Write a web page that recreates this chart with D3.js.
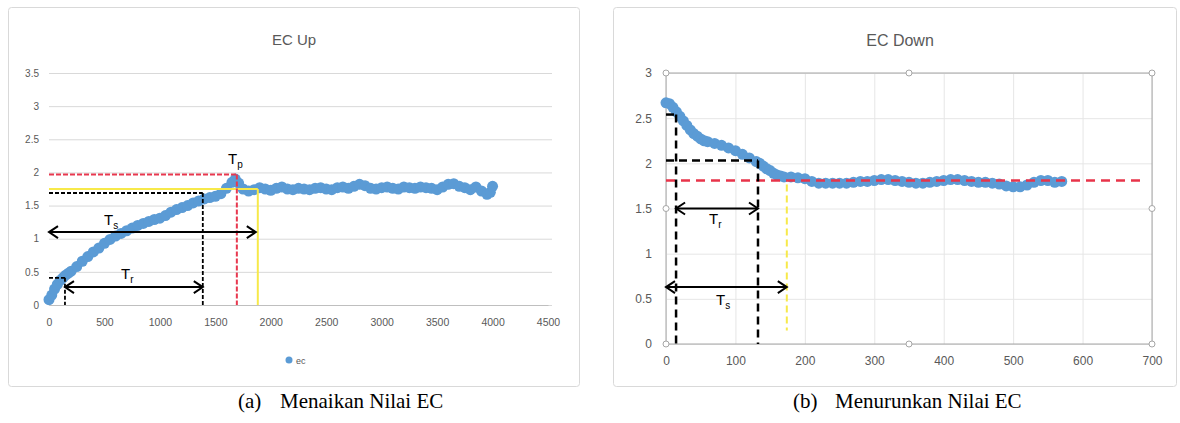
<!DOCTYPE html>
<html>
<head>
<meta charset="utf-8">
<script src="https://cdn.jsdelivr.net/npm/d3@7"></script>
<style>
  body { margin: 0; background: #fff; }
  text { font-family: "Liberation Sans", Arial, sans-serif; }
</style>
</head>
<body>
<div id="viz"></div>
<script>
// EC Up series (time, ec)
const up_time = [0,25,50,75,100,125,150,175,200,250,300,350,400,450,500,550,600,650,700,750,800,850,900,950,1000,1050,1100,1150,1200,1250,1300,1350,1400,1450,1500,1550,1600,1650,1680,1710,1750,1800,1850,1900,1950,2000,2050,2100,2150,2200,2250,2300,2350,2400,2450,2500,2550,2600,2650,2700,2750,2800,2850,2900,2950,3000,3050,3100,3150,3200,3250,3300,3350,3400,3450,3500,3550,3600,3650,3700,3750,3800,3850,3900,3950,3980,4000];
const up_ec = [0.08,0.15,0.24,0.31,0.37,0.41,0.45,0.48,0.51,0.58,0.66,0.73,0.8,0.86,0.93,0.99,1.04,1.08,1.12,1.16,1.2,1.23,1.26,1.29,1.31,1.35,1.4,1.44,1.47,1.5,1.54,1.57,1.6,1.62,1.64,1.68,1.76,1.85,1.9,1.84,1.75,1.72,1.74,1.77,1.75,1.73,1.76,1.78,1.75,1.74,1.76,1.75,1.74,1.76,1.77,1.75,1.74,1.77,1.78,1.76,1.79,1.82,1.8,1.76,1.75,1.77,1.78,1.76,1.75,1.78,1.77,1.76,1.78,1.77,1.76,1.74,1.78,1.82,1.83,1.79,1.77,1.74,1.78,1.72,1.67,1.7,1.79];

// EC Down series (time, ec)
const down_time = [0,5,10,15,20,25,30,35,40,45,50,55,60,70,80,90,100,110,120,130,135,140,145,150,155,160,165,170,180,190,200,210,220,230,240,250,260,270,280,290,300,310,320,330,340,350,360,370,380,390,400,410,420,430,440,450,460,470,480,490,500,510,520,530,540,550,560,570];
const down_ec = [2.67,2.66,2.62,2.57,2.52,2.47,2.42,2.37,2.33,2.3,2.27,2.25,2.24,2.22,2.2,2.17,2.14,2.1,2.06,2.02,2.0,1.97,1.94,1.92,1.89,1.87,1.86,1.85,1.85,1.84,1.83,1.8,1.78,1.78,1.78,1.78,1.78,1.79,1.8,1.8,1.81,1.82,1.82,1.81,1.8,1.79,1.78,1.78,1.79,1.8,1.81,1.82,1.82,1.81,1.8,1.79,1.79,1.78,1.77,1.75,1.74,1.74,1.76,1.79,1.81,1.81,1.79,1.8];

// annotation values
const up_marks = { t_start: 144, ec_start: 0.41, t_rise: 1387, ec_rise: 1.69, t_peak: 1694, ec_peak: 1.97, t_settle: 1883, ec_settle: 1.75 };
const down_marks = { t_start: 14.5, ec_start: 2.54, t_fall: 132.5, ec_fall: 2.03, ec_final: 1.81, t_settle: 174 };

const up_x_ticks = d3.range(0, 4501, 500);
const up_y_ticks = d3.range(0, 3.51, 0.5);
const down_x_ticks = d3.range(0, 701, 100);
const down_y_ticks = d3.range(0, 3.01, 0.5);

const captions = [['(a)', 'Menaikan Nilai EC'], ['(b)', 'Menurunkan Nilai EC']];

const BLUE = '#5b9bd5';
const GRID = '#d9d9d9';
const LABEL = '#595959';

const svg = d3.select('#viz').append('svg')
  .attr('width', 1180).attr('height', 423);

// chart boxes
svg.append('rect').attr('x', 8.5).attr('y', 7.5).attr('width', 571).attr('height', 379)
  .attr('rx', 3).attr('fill', '#fff').attr('stroke', GRID);
svg.append('rect').attr('x', 613.5).attr('y', 7.5).attr('width', 563).attr('height', 379)
  .attr('rx', 3).attr('fill', '#fff').attr('stroke', GRID);

function arrow(g, x1, x2, y) {
  g.append('line').attr('x1', x1).attr('x2', x2).attr('y1', y).attr('y2', y)
    .attr('stroke', '#000').attr('stroke-width', 2);
  [[x1, 1], [x2, -1]].forEach(([x, dir]) => {
    g.append('path')
      .attr('d', `M${x + dir * 9},${y - 6}L${x},${y}L${x + dir * 9},${y + 6}`)
      .attr('fill', 'none').attr('stroke', '#000').attr('stroke-width', 2);
  });
}

function tlabel(g, x, y, sub) {
  const t = g.append('text').attr('x', x).attr('y', y).attr('font-size', 15).attr('fill', '#000');
  t.append('tspan').text('T');
  t.append('tspan').attr('font-size', 10).attr('dy', 4).text(sub);
}

function seg(g, x1, y1, x2, y2, color, width, dash) {
  g.append('line').attr('x1', x1).attr('y1', y1).attr('x2', x2).attr('y2', y2)
    .attr('stroke', color).attr('stroke-width', width)
    .attr('stroke-dasharray', dash);
}

// ---------- (a) EC Up ----------
function draw_up() {
  const x = d3.scaleLinear().domain([0, 4500]).range([49, 548]);
  const y = d3.scaleLinear().domain([0, 3.5]).range([305, 73]);
  const g = svg.append('g');

  g.append('g').attr('transform', 'translate(49,0)')
    .call(d3.axisLeft(y).tickValues(up_y_ticks).tickSize(-503).tickPadding(10).tickFormat(d3.format('~g')))
    .call(a => a.select('.domain').remove())
    .call(a => a.selectAll('line').attr('stroke', GRID))
    .call(a => a.selectAll('text').attr('fill', LABEL).attr('font-size', 10));

  g.append('g').attr('transform', 'translate(0,305)')
    .call(d3.axisBottom(x).tickValues(up_x_ticks).tickSize(0).tickPadding(14).tickFormat(d3.format('d')))
    .call(a => a.select('.domain').attr('stroke', '#bfbfbf'))
    .call(a => a.selectAll('text').attr('fill', LABEL).attr('font-size', 10.5));

  g.append('text').attr('x', 294).attr('y', 45).attr('text-anchor', 'middle')
    .attr('font-size', 15).attr('fill', LABEL).text('EC Up');

  g.append('g').selectAll('circle')
    .data(up_time.map((t, i) => [t, up_ec[i]]))
    .join('circle')
    .attr('cx', d => x(d[0])).attr('cy', d => y(d[1])).attr('r', 5.5)
    .attr('fill', BLUE);

  const m = up_marks;
  // yellow settle lines
  seg(g, x(0), y(m.ec_settle), x(m.t_settle), y(m.ec_settle), '#f7e94a', 2, null);
  seg(g, x(m.t_settle), y(m.ec_settle), x(m.t_settle), y(0), '#f7e94a', 2, null);
  // black dashed rise lines
  seg(g, x(0), y(m.ec_rise), x(m.t_rise), y(m.ec_rise), '#000', 1.8, '4,2');
  seg(g, x(m.t_rise), y(m.ec_rise), x(m.t_rise), y(0), '#000', 1.8, '4,2');
  seg(g, x(0), y(m.ec_start), x(m.t_start), y(m.ec_start), '#000', 1.8, '4,2');
  seg(g, x(m.t_start), y(m.ec_start), x(m.t_start), y(0), '#000', 1.8, '4,2');
  // red dashed peak lines
  seg(g, x(0), y(m.ec_peak), x(m.t_peak), y(m.ec_peak), '#e8384f', 2, '5,2');
  seg(g, x(m.t_peak), y(m.ec_peak), x(m.t_peak), y(0), '#e8384f', 2, '5,2');

  arrow(g, x(0), x(m.t_settle) - 2, y(1.1));
  arrow(g, x(m.t_start), x(m.t_rise), y(0.27));
  tlabel(g, 104, 225, 's');
  tlabel(g, 121, 279, 'r');
  tlabel(g, 228, 164, 'p');

  // legend
  g.append('circle').attr('cx', 289).attr('cy', 360).attr('r', 3.5).attr('fill', BLUE);
  g.append('text').attr('x', 296).attr('y', 363.5).attr('font-size', 9).attr('fill', LABEL).text('ec');
}

// ---------- (b) EC Down ----------
function draw_down() {
  const x = d3.scaleLinear().domain([0, 700]).range([666, 1152]);
  const y = d3.scaleLinear().domain([0, 3]).range([344, 73]);
  const g = svg.append('g');

  g.append('g').attr('transform', 'translate(666,0)')
    .call(d3.axisLeft(y).tickValues(down_y_ticks).tickSize(-486).tickPadding(14).tickFormat(d3.format('~g')))
    .call(a => a.select('.domain').remove())
    .call(a => a.selectAll('line').attr('stroke', '#e6e6e6'))
    .call(a => a.selectAll('text').attr('fill', LABEL).attr('font-size', 12));

  g.append('g').attr('transform', 'translate(0,344)')
    .call(d3.axisBottom(x).tickValues(down_x_ticks).tickSize(-271).tickPadding(12))
    .call(a => a.select('.domain').remove())
    .call(a => a.selectAll('line').attr('stroke', '#e6e6e6'))
    .call(a => a.selectAll('text').attr('fill', LABEL).attr('font-size', 12));

  // plot area frame
  g.append('rect').attr('x', x(0)).attr('y', y(3)).attr('width', x(700) - x(0)).attr('height', y(0) - y(3))
    .attr('fill', 'none').attr('stroke', '#a6a6a6');

  g.append('text').attr('x', 900).attr('y', 46).attr('text-anchor', 'middle')
    .attr('font-size', 16).attr('fill', LABEL).text('EC Down');

  g.append('g').selectAll('circle')
    .data(down_time.map((t, i) => [t, down_ec[i]]))
    .join('circle')
    .attr('cx', d => x(d[0])).attr('cy', d => y(d[1])).attr('r', 5.5)
    .attr('fill', BLUE);

  const m = down_marks;
  seg(g, x(0), y(m.ec_final), x(688), y(m.ec_final), '#e8344a', 2.5, '9,6');
  seg(g, x(m.t_settle), y(m.ec_final) + 4, x(m.t_settle), y(0.15), '#f7e94a', 2, '7,4');
  seg(g, x(0), y(m.ec_start), x(m.t_start), y(m.ec_start), '#000', 2.5, '8,5');
  seg(g, x(m.t_start), y(m.ec_start), x(m.t_start), y(0), '#000', 2.5, '8,5');
  seg(g, x(0), y(m.ec_fall), x(m.t_fall), y(m.ec_fall), '#000', 2.5, '8,5');
  seg(g, x(m.t_fall), y(m.ec_fall), x(m.t_fall), y(0), '#000', 2.5, '8,5');

  arrow(g, x(m.t_start), x(m.t_fall), y(1.5));
  arrow(g, x(0), x(m.t_settle), y(0.63));
  tlabel(g, 709, 224, 'r');
  tlabel(g, 716, 305, 's');

  // selection handles
  const hx = [x(0), (x(0) + x(700)) / 2, x(700)];
  const hy = [y(3), (y(0) + y(3)) / 2, y(0)];
  const handles = [];
  hx.forEach((a, i) => hy.forEach((b, j) => { if (!(i === 1 && j === 1)) handles.push([a, b]); }));
  g.append('g').selectAll('circle').data(handles).join('circle')
    .attr('cx', d => d[0]).attr('cy', d => d[1]).attr('r', 3)
    .attr('fill', '#fff').attr('stroke', '#a6a6a6');
}

draw_up();
draw_down();

// captions
[[238, 280], [793, 835]].forEach(([x0, x1], i) => {
  const cap = svg.append('text').attr('y', 408).attr('font-size', 21)
    .style('font-family', '"Liberation Serif", "Times New Roman", serif').attr('fill', '#000');
  cap.append('tspan').attr('x', x0).text(captions[i][0]);
  cap.append('tspan').attr('x', x1).text(captions[i][1]);
});
</script>
</body>
</html>
